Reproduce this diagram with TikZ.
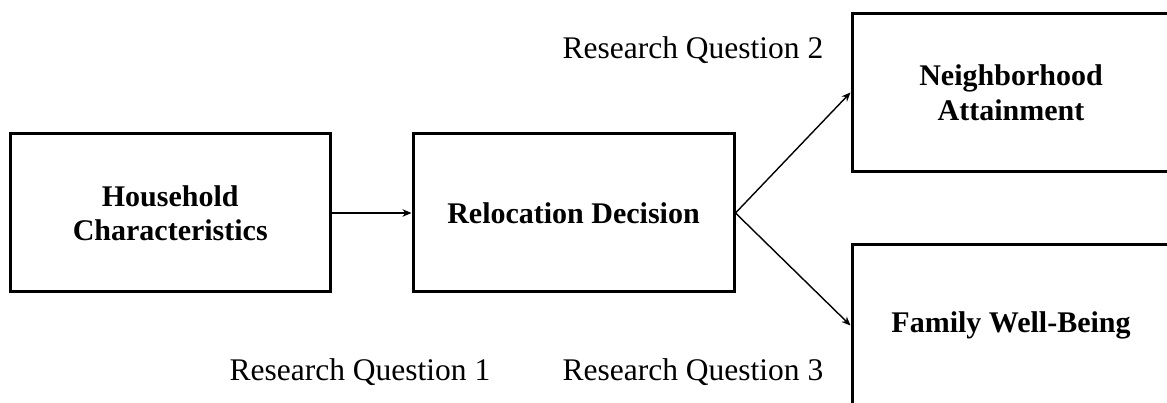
\documentclass[tikz,border=0pt]{standalone}
\usepackage{fontspec}
\setmainfont{Liberation Serif}
\usetikzlibrary{arrows.meta}
\begin{document}
\begin{tikzpicture}[x=1pt,y=-1pt,
  box/.style={draw, line width=3pt, inner sep=0pt, align=center,
    minimum height=158pt, font=\fontsize{30}{34.5}\selectfont\bfseries},
  qlabel/.style={inner sep=0pt, font=\fontsize{31.5}{34}\selectfont},
  link/.style={line width=1.4pt, -{Stealth[length=9pt,width=7.5pt]}}]
\useasboundingbox (0,0) rectangle (1167,403);
\begin{scope}
\clip (0,0) rectangle (1167,403);
\node[box, minimum width=320.5pt] (house) at (170.25,213)
  {Household\\Characteristics};
\node[box, minimum width=321pt] (reloc) at (573.5,213)
  {Relocation Decision};
\node[box, minimum width=318pt] (neigh) at (1011,92.5)
  {Neighborhood\\Attainment};
\node[box, minimum width=318pt, minimum height=162pt] (family) at (1011,325.5)
  {Family Well-Being};
\end{scope}
\draw[link] (house) -- (reloc);
\draw[link] (reloc.east) -- (neigh.west);
\draw[link] (reloc.east) -- (family.west);
\node[qlabel] (q2) at (693,50) {Research Question 2};
\node[qlabel] (q1) at (360,372) {Research Question 1};
\node[qlabel] (q3) at (693,372) {Research Question 3};
\end{tikzpicture}
\end{document}
